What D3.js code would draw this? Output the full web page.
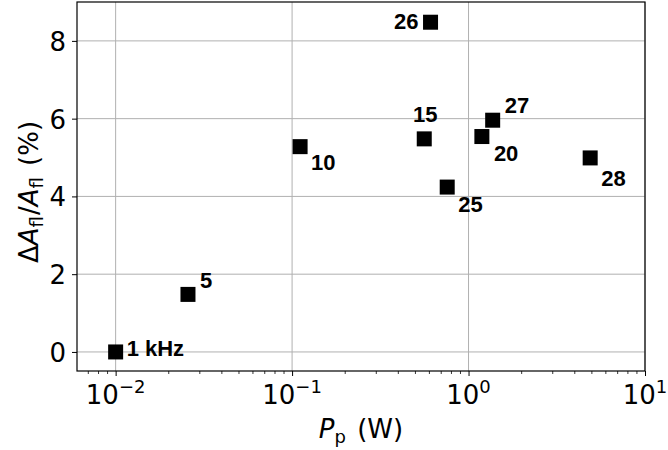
<!DOCTYPE html>
<html><head><meta charset="utf-8">
<script src="https://cdn.jsdelivr.net/npm/d3@7"></script>
<style>body{margin:0;background:#fff}svg{display:block}</style>
</head><body>
<script>
const labels = ["1 kHz","5","10","15","26","25","20","27","28"];
const powerW = [0.0100,0.0257,0.111,0.561,0.609,0.757,1.19,1.37,4.89];
const deltaPct = [0.00,1.48,5.28,5.48,8.48,4.24,5.54,5.96,4.99];
const yTicks = [0,2,4,6,8];
const xTickExps = [-2,-1,0,1];
// label placement (dx, dy, anchor) relative to marker centre
const labelDx = [11,12,11,1,-12,11,12,12,11];
const labelDy = [4,-6,23,-17,7,25,24,-7,28];
const labelAnchor = ["start","start","start","middle","end","start","start","start","start"];

const W=668,H=450;
const m={l:77,r:645,t:2,b:371};
const svg=d3.select("body").append("svg").attr("width",W).attr("height",H);
const x=d3.scaleLog().domain([0.00604,10]).range([m.l,m.r]);
const y=d3.scaleLinear().domain([-0.49,9]).range([m.b,m.t]);
const tickFont="'DejaVu Sans'";
const FS=26, FSsub=18;

// grid
const g=svg.append("g");
xTickExps.forEach(e=>{
  const xv=x(Math.pow(10,e));
  g.append("line").attr("x1",xv).attr("x2",xv).attr("y1",m.t).attr("y2",m.b).attr("stroke","#b0b0b0").attr("stroke-width",1);
});
yTicks.forEach(v=>{
  g.append("line").attr("x1",m.l).attr("x2",m.r).attr("y1",y(v)).attr("y2",y(v)).attr("stroke","#b0b0b0").attr("stroke-width",1);
});

// markers
const s=15;
svg.selectAll("rect.pt").data(powerW).enter().append("rect")
  .attr("x",(d)=>x(d)-s/2).attr("y",(d,i)=>y(deltaPct[i])-s/2)
  .attr("width",s).attr("height",s).attr("fill","#000");
svg.selectAll("text.lab").data(labels).enter().append("text")
  .attr("x",(d,i)=>x(powerW[i])+labelDx[i]).attr("y",(d,i)=>y(deltaPct[i])+labelDy[i])
  .attr("text-anchor",(d,i)=>labelAnchor[i])
  .attr("font-family","'Liberation Sans', Arial, sans-serif").attr("font-weight","bold").attr("font-size",22)
  .text(d=>d);

// axes
const xAxis=d3.axisBottom(x).tickValues(xTickExps.map(e=>Math.pow(10,e))).tickSize(5).tickFormat("");
const gx=svg.append("g").attr("transform",`translate(0,${m.b})`).call(xAxis);
gx.select(".domain").remove();
const minors=[];
for(let e=-3;e<=0;e++)for(let k=2;k<=9;k++){const v=k*Math.pow(10,e);if(v>=x.domain()[0]&&v<=10)minors.push(v);}
gx.selectAll("line.minor").data(minors).enter().append("line").attr("class","minor")
  .attr("x1",d=>x(d)).attr("x2",d=>x(d)).attr("y1",0).attr("y2",3).attr("stroke","#000").attr("stroke-width",0.8);
gx.selectAll(".tick line").attr("stroke","#000").attr("stroke-width",1);
xTickExps.forEach(e=>{
  const t=svg.append("text").attr("x",x(Math.pow(10,e))).attr("y",404).attr("text-anchor","middle")
    .attr("font-family",tickFont).attr("font-size",FS).attr("fill","#000");
  t.append("tspan").text("10");
  t.append("tspan").attr("dy",-11).attr("font-size",FSsub).text(e<0?"\u2212"+(-e):String(e));
});
const yAxis=d3.axisLeft(y).tickValues(yTicks).tickSize(5).tickPadding(6).tickFormat(d3.format("d"));
const gy=svg.append("g").attr("transform",`translate(${m.l},0)`).call(yAxis);
gy.select(".domain").remove();
gy.selectAll(".tick line").attr("stroke","#000");
gy.selectAll(".tick text").attr("font-family",tickFont).attr("font-size",FS).attr("fill","#000").attr("dy","0.36em");

// frame
svg.append("rect").attr("x",m.l).attr("y",m.t).attr("width",m.r-m.l).attr("height",m.b-m.t)
  .attr("fill","none").attr("stroke","#000").attr("stroke-width",1.2);

// axis labels
const xl=svg.append("text").attr("x",361).attr("y",438).attr("text-anchor","middle")
  .attr("font-family",tickFont).attr("font-size",FS);
xl.append("tspan").attr("font-style","italic").text("P");
xl.append("tspan").attr("font-size",FSsub).attr("dy",5).text("p");
xl.append("tspan").attr("dy",-5).attr("dx",3).text(" (W)");

const YFS=26, YFSsub=18;
const yl=svg.append("text").attr("transform",`translate(38,192) rotate(-90)`).attr("text-anchor","middle")
  .attr("font-family",tickFont).attr("font-size",YFS);
yl.append("tspan").text("\u0394");
yl.append("tspan").attr("font-style","italic").text("A");
yl.append("tspan").attr("font-size",YFSsub).attr("dy",5).text("fl");
yl.append("tspan").attr("dy",-5).attr("dx",1).text("/");
yl.append("tspan").attr("font-style","italic").text("A");
yl.append("tspan").attr("font-size",YFSsub).attr("dy",5).text("fl");
yl.append("tspan").attr("dy",-5).attr("dx",3).text(" (%)");
</script>
</body></html>
